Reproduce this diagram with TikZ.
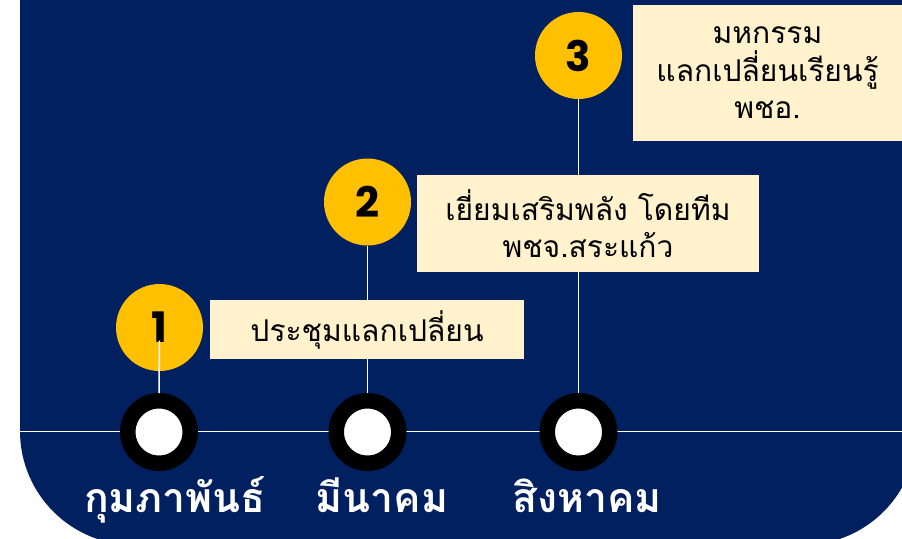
\documentclass[tikz,border=0pt]{standalone}
\usepackage{fontspec}
\newfontfamily\thaifont[Script=Thai]{Loma}
\newfontfamily\numfont{Poppins}
\definecolor{navy}{HTML}{002060}
\definecolor{gold}{HTML}{FFC000}
\definecolor{cream}{HTML}{FFF2CC}
\pgfdeclarelayer{back}
\pgfdeclarelayer{lines}
\pgfsetlayers{back,lines,main}
\tikzset{
  numdot/.style={circle, fill=gold, minimum size=87pt, inner sep=0pt,
    font=\numfont\bfseries\fontsize{42}{42}\selectfont, text=black},
  ring/.style={circle, draw=black, line width=15.5pt, fill=white,
    minimum size=62.5pt, inner sep=0pt},
  infobox/.style={fill=cream, inner sep=0pt, align=center, text=black,
    font=\thaifont\fontsize{30}{37.5}\selectfont},
  month/.style={anchor=base, text=white, inner sep=0pt,
    font=\thaifont\bfseries\fontsize{41}{41}\selectfont},
  conn/.style={draw=white, line width=1.5pt}
}
\begin{document}
\begin{tikzpicture}[x=1pt,y=-1pt]
\useasboundingbox (0,0) rectangle (902,538);
\begin{pgfonlayer}{back}
  \fill[white] (0,0) rectangle (902,538);
  \begin{scope}
    \clip (0,0) rectangle (902,538);
    \fill[navy, rounded corners=114pt] (20,-300) rectangle (917,545);
  \end{scope}
\end{pgfonlayer}
% timeline
\coordinate (tl) at (20,431.5);
\coordinate (tr) at (902,431.5);
% rings
\node[ring] (r1) at (159,432) {};
\node[ring] (r2) at (367.5,432) {};
\node[ring] (r3) at (578.5,432) {};
% numbered circles
\node[numdot] (n1) at (159.5,327.5) {1};
\node[numdot] (n2) at (367.5,202) {2};
\node[numdot] (n3) at (578.5,55.5) {3};
% boxes
\node[infobox, minimum width=314pt, minimum height=59pt] (b1) at (367,329.5) {ประชุมแลกเปลี่ยน};
\node[infobox, minimum width=342pt, minimum height=97pt] (b2) at (588,223.5) {เยี่ยมเสริมพลัง โดยทีม\\พชจ.สระแก้ว};
\node[infobox, minimum width=269pt, minimum height=136pt] (b3) at (767.5,73) {มหกรรม\\แลกเปลี่ยนเรียนรู้\\พชอ.};
% months
\node[month] (m1) at (175,512) {กุมภาพันธ์};
\node[month] (m2) at (382,512) {มีนาคม};
\node[month] (m3) at (587,512) {สิงหาคม};
\begin{pgfonlayer}{lines}
  \draw[conn] (tl) -- (tr);
  \draw[conn] (n2.south) -- (r2.north);
  \draw[conn] (n3.south) -- (r3.north);
\end{pgfonlayer}
\draw[conn] ([yshift=-13pt]n1.center) -- (r1.north);
\end{tikzpicture}
\end{document}
